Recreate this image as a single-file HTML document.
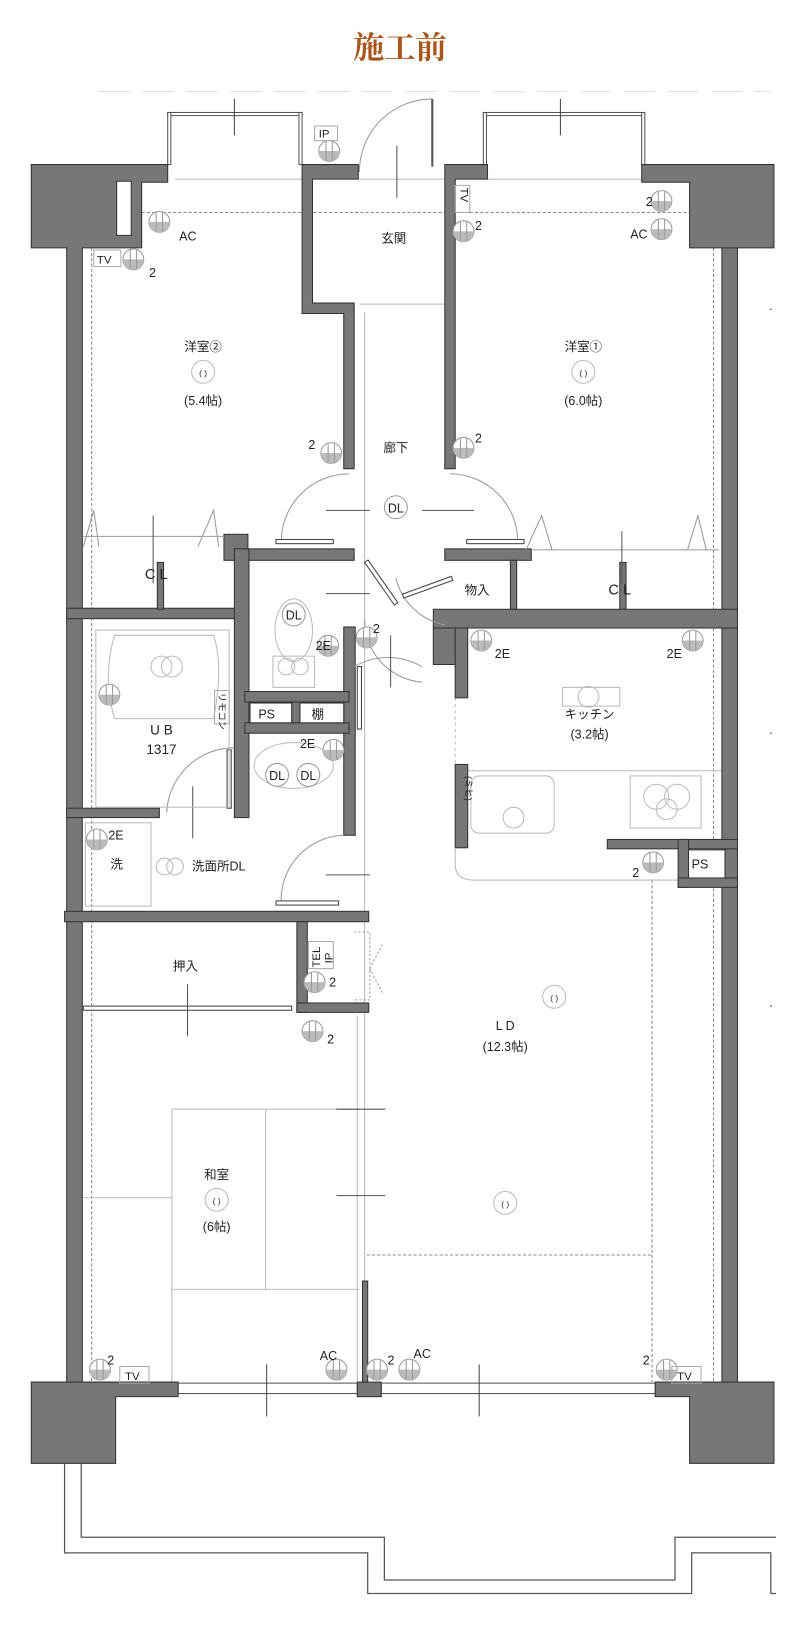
<!DOCTYPE html>
<html><head><meta charset="utf-8"><style>
html,body{margin:0;padding:0;background:#fff;}
svg{display:block;}
text{font-family:"Liberation Sans","Noto Sans CJK JP",sans-serif;fill:#222;}
</style></head><body>
<svg width="800" height="1631" viewBox="0 0 768 1566" preserveAspectRatio="none" xmlns="http://www.w3.org/2000/svg">
<defs>
<g id="o"><circle r="10" fill="#fff" stroke="#999" stroke-width="1"/><path d="M-10,0 A10,10 0 0 0 10,0 Z" fill="#bbb"/><line x1="-3" y1="-9" x2="-3" y2="9" stroke="#999"/><line x1="3" y1="-9" x2="3" y2="9" stroke="#999"/></g>
<g id="l"><circle r="11" fill="#fff" stroke="#bbb"/><text x="0" y="4" font-size="8" text-anchor="middle" fill="#aaa">( )</text></g>
</defs>
<text x="384" y="56" font-size="30" font-weight="bold" text-anchor="middle" style="font-family:'Liberation Serif','Noto Serif CJK SC',serif;fill:#a8561c">施工前</text>
<line x1="95" y1="88" x2="740" y2="88" stroke="#ddd" stroke-dasharray="30,12"/>

<g stroke="#888" stroke-width="1" stroke-dasharray="3,2" fill="none">
<line x1="136" y1="204" x2="662" y2="204"/>
<line x1="88" y1="238" x2="88" y2="1327"/>
<line x1="685" y1="238" x2="685" y2="1327"/>
<line x1="626" y1="845" x2="626" y2="1327"/>
<line x1="352" y1="1205" x2="626" y2="1205"/>
</g>
<g stroke="#bbb" fill="none">
<line x1="168" y1="172" x2="290" y2="172"/><line x1="468" y1="172" x2="616" y2="172"/>
<line x1="345" y1="172" x2="427" y2="172"/>
<line x1="345" y1="292" x2="427" y2="292"/>
<line x1="350" y1="300" x2="350" y2="1330"/><line x1="343" y1="975" x2="343" y2="1330"/>
<line x1="165" y1="1065" x2="165" y2="1330"/><line x1="165" y1="1065" x2="345" y2="1065"/>
<line x1="255" y1="1065" x2="255" y2="1238"/><line x1="165" y1="1238" x2="345" y2="1238"/>
<line x1="80" y1="1150" x2="165" y2="1150"/>
<line x1="443" y1="740" x2="693" y2="740"/>
<path d="M437,815 L437,830 Q437,845 455,845 L650,845"/>
<line x1="437" y1="670" x2="437" y2="735" stroke-dasharray="3,3"/>
</g>

<g stroke="#555" fill="#fff" stroke-width="1">
<rect x="161" y="108" width="129" height="3"/><rect x="161" y="108" width="3" height="50"/><rect x="287" y="108" width="3" height="50"/>
<rect x="464" y="108" width="155" height="3"/><rect x="464" y="108" width="3" height="50"/><rect x="616" y="108" width="3" height="50"/>
<rect x="171" y="1328" width="172" height="10"/><rect x="366" y="1328" width="263" height="10"/>
</g>
<g stroke="#444"><line x1="225" y1="95" x2="225" y2="130"/><line x1="538" y1="95" x2="538" y2="130"/>
<line x1="256" y1="1310" x2="256" y2="1360"/><line x1="460" y1="1310" x2="460" y2="1360"/></g>

<g fill="#777" stroke="#333" stroke-width="1">
<path d="M30,158 H161 V175 H136 V238 H79 V1327 H64 V238 H30 Z"/>
<path d="M743,158 H616 V175 H662 V238 H708 V1327 H693 V238 H743 Z"/>
<path d="M290,158 H344 V172 H300 V291 H340 V450 H330 V301 H290 Z"/>
<path d="M427,158 H468 V172 H437 V450 H427 Z"/>
<rect x="215" y="513" width="23" height="25"/><rect x="235" y="527" width="105" height="11"/>
<rect x="427" y="527" width="83" height="11"/>
<rect x="64" y="584" width="175" height="10"/>
<rect x="151" y="540" width="6" height="45"/><rect x="595" y="540" width="6" height="45"/>
<rect x="490" y="538" width="6" height="47"/>
<rect x="225" y="527" width="14" height="258"/>
<rect x="330" y="602" width="11" height="200"/>
<rect x="235" y="664" width="100" height="10"/><rect x="235" y="694" width="100" height="10"/><rect x="280" y="674" width="8" height="20"/>
<rect x="64" y="776" width="89" height="9"/>
<rect x="62" y="875" width="292" height="10"/>
<rect x="285" y="885" width="10" height="87"/><rect x="285" y="963" width="69" height="9"/>
<rect x="416" y="585" width="292" height="18"/><rect x="416" y="603" width="21" height="35"/>
<rect x="437" y="603" width="12" height="67"/><rect x="437" y="734" width="12" height="80"/>
<rect x="583" y="806" width="125" height="9"/><rect x="651" y="806" width="10" height="46"/><rect x="651" y="843" width="57" height="9"/>
<path d="M30,1327 H171 V1341 H111 V1405 H30 Z"/>
<path d="M743,1327 H629 V1341 H662 V1405 H743 Z"/>
<rect x="343" y="1327" width="23" height="14"/>
<rect x="348" y="1230" width="5" height="97"/>
</g>
<rect x="112" y="174" width="14" height="52" fill="#fff" stroke="#333"/>
<rect x="661" y="816" width="35" height="27" fill="#fff" stroke="#333"/>
<rect x="240" y="675" width="40" height="19" fill="#fff" stroke="#333"/>
<rect x="288" y="675" width="42" height="19" fill="#fff" stroke="#333"/>

<g stroke="#999" fill="none">
<path d="M415,95 A70,70 0 0 0 345,165"/><line x1="415" y1="95" x2="415" y2="160" stroke="#555" stroke-width="2"/>
<path d="M335,455 A65,65 0 0 0 270,520"/><path d="M432,455 A65,65 0 0 1 497,520"/>
<path d="M330,802 A62,62 0 0 0 270,868"/>
<path d="M225,718 A65,65 0 0 0 160,780"/>
<path d="M340,640 A65,65 0 0 1 405,640 "/>
<path d="M350,595 A60,60 0 0 0 405,655"/>
<path d="M380,555 A60,60 0 0 0 427,600"/>
<path d="M95,525 L90,490 L80,525 M190,525 L205,490 L210,525 M505,528 L520,495 L530,528 M660,528 L670,495 L678,528"/>
<line x1="80" y1="515" x2="215" y2="515"/><line x1="510" y1="528" x2="690" y2="528"/>
<path d="M340,895 L355,895 L355,960 L340,960 M355,930 L368,905 M355,930 L368,955" stroke-dasharray="2,2"/>
<line x1="80" y1="968" x2="280" y2="968"/>
</g>
<g stroke="#444" fill="#fff">
<rect x="265" y="518" width="55" height="4"/><rect x="448" y="518" width="55" height="4"/>
<rect x="265" y="865" width="60" height="4"/>
<rect x="350" y="540" width="4" height="50" transform="rotate(-35 350 540)"/>
<rect x="380" y="555" width="50" height="4" transform="rotate(-20 427 545)"/>
<rect x="343" y="640" width="4" height="60"/>
<rect x="218" y="720" width="4" height="56"/>
<rect x="80" y="966" width="200" height="4"/>
</g>
<g stroke="#555"><line x1="381" y1="140" x2="381" y2="190"/><line x1="313" y1="490" x2="355" y2="490"/><line x1="405" y1="490" x2="455" y2="490"/>
<line x1="313" y1="570" x2="355" y2="570"/><line x1="375" y1="610" x2="375" y2="660"/><line x1="185" y1="755" x2="185" y2="805"/>
<line x1="313" y1="840" x2="355" y2="840"/><line x1="180" y1="945" x2="180" y2="995"/><line x1="147" y1="495" x2="147" y2="560"/><line x1="597" y1="510" x2="597" y2="560"/>
<line x1="323" y1="1065" x2="370" y2="1065"/><line x1="323" y1="1148" x2="370" y2="1148"/></g>

<g stroke="#bbb" fill="none">
<rect x="92" y="605" width="128" height="170"/><path d="M110,610 H205 Q215,640 205,690 H110 Q98,650 110,610 Z"/>
<rect x="82" y="790" width="63" height="80"/>
<ellipse cx="282" cy="605" rx="18" ry="30"/><rect x="262" y="630" width="40" height="30"/>
<ellipse cx="282" cy="735" rx="38" ry="22"/>
<rect x="452" y="745" width="80" height="55" rx="8"/><rect x="605" y="745" width="68" height="50"/>
<circle cx="630" cy="765" r="12"/><circle cx="650" cy="765" r="12"/><circle cx="640" cy="777" r="10"/>
<circle cx="493" cy="785" r="10"/><rect x="540" y="660" width="55" height="18"/><circle cx="565" cy="669" r="10"/>
<circle cx="155" cy="640" r="10"/><circle cx="165" cy="640" r="10"/>
<circle cx="158" cy="832" r="8"/><circle cx="168" cy="832" r="8"/>
<circle cx="275" cy="640" r="8"/><circle cx="288" cy="640" r="8"/>
</g>
<use href="#l" x="195" y="357"/><use href="#l" x="560" y="357"/><use href="#l" x="532" y="957"/><use href="#l" x="485" y="1155"/><use href="#l" x="208" y="1152"/>

<use href="#o" x="153" y="213"/><use href="#o" x="128" y="249"/><use href="#o" x="316" y="145"/>
<use href="#o" x="445" y="222"/><use href="#o" x="635" y="193"/><use href="#o" x="635" y="220"/>
<use href="#o" x="318" y="435"/><use href="#o" x="445" y="430"/><use href="#o" x="352" y="612"/>
<use href="#o" x="315" y="620"/><use href="#o" x="320" y="720"/><use href="#o" x="105" y="667"/>
<use href="#o" x="93" y="806"/><use href="#o" x="462" y="615"/><use href="#o" x="665" y="615"/>
<use href="#o" x="627" y="828"/><use href="#o" x="300" y="990"/><use href="#o" x="302" y="943"/>
<use href="#o" x="96" y="1315"/><use href="#o" x="323" y="1315"/><use href="#o" x="362" y="1315"/>
<use href="#o" x="393" y="1315"/><use href="#o" x="640" y="1315"/>

<g font-size="12">
<text x="378" y="233" text-anchor="middle">玄関</text>
<text x="195" y="337" text-anchor="middle">洋室②</text><text x="195" y="389" text-anchor="middle">(5.4帖)</text>
<text x="560" y="337" text-anchor="middle">洋室①</text><text x="560" y="389" text-anchor="middle">(6.0帖)</text>
<text x="380" y="434" text-anchor="middle">廊下</text>
<text x="150" y="556" text-anchor="middle" font-size="14">C L</text><text x="595" y="571" text-anchor="middle" font-size="14">C L</text>
<text x="458" y="571" text-anchor="middle">物入</text>
<text x="155" y="705" text-anchor="middle" font-size="13">U B</text><text x="155" y="724" text-anchor="middle" font-size="13">1317</text>
<text x="256" y="690" text-anchor="middle">PS</text><text x="305" y="690" text-anchor="middle">棚</text><text x="672" y="834" text-anchor="middle">PS</text>
<text x="566" y="690" text-anchor="middle">キッチン</text><text x="566" y="709" text-anchor="middle">(3.2帖)</text>
<text x="210" y="836" text-anchor="middle">洗面所DL</text><text x="112" y="834" text-anchor="middle">洗</text>
<text x="178" y="932" text-anchor="middle">押入</text>
<text x="485" y="989" text-anchor="middle">L D</text><text x="485" y="1009" text-anchor="middle">(12.3帖)</text>
<text x="208" y="1132" text-anchor="middle">和室</text><text x="208" y="1182" text-anchor="middle">(6帖)</text>
<text x="172" y="231">AC</text><text x="605" y="229">AC</text><text x="307" y="1306">AC</text><text x="397" y="1304">AC</text>
<text x="143" y="266">2</text><text x="456" y="221">2</text><text x="620" y="198">2</text><text x="296" y="431">2</text><text x="456" y="425">2</text>
<text x="358" y="608">2</text><text x="607" y="842">2</text><text x="314" y="1002">2</text><text x="316" y="947">2</text>
<text x="103" y="1310">2</text><text x="372" y="1310">2</text><text x="617" y="1310">2</text>
<text x="303" y="624">2E</text><text x="288" y="718">2E</text><text x="104" y="806">2E</text><text x="475" y="632">2E</text><text x="640" y="632">2E</text>
<text x="306" y="132" font-size="11">IP</text>
<text x="93" y="253" font-size="11">TV</text><text x="120" y="1325" font-size="11">TV</text><text x="650" y="1325" font-size="11">TV</text>
</g>
<g font-size="12" text-anchor="middle">
<circle cx="380" cy="487" r="11" fill="#fff" stroke="#999"/><text x="380" y="492">DL</text>
<circle cx="282" cy="590" r="11" fill="#fff" stroke="#999"/><text x="282" y="595">DL</text>
<circle cx="266" cy="744" r="11" fill="#fff" stroke="#999"/><text x="266" y="749">DL</text>
<circle cx="296" cy="744" r="11" fill="#fff" stroke="#999"/><text x="296" y="749">DL</text>
</g>
<g fill="none" stroke="#aaa"><rect x="302" y="121" width="22" height="14"/><rect x="90" y="240" width="26" height="16"/><rect x="115" y="1312" width="28" height="16"/><rect x="645" y="1312" width="28" height="16"/>
<rect x="437" y="178" width="14" height="26"/><rect x="206" y="663" width="14" height="32"/><rect x="296" y="904" width="24" height="26"/></g>
<text transform="translate(442,180) rotate(90)" font-size="11">TV</text>
<text transform="translate(210,665) rotate(90)" font-size="9">リモコン</text>
<text transform="translate(447,745) rotate(90)" font-size="9">(ミヒ)</text>
<text transform="translate(307,929) rotate(-90)" font-size="11">TEL</text>
<text transform="translate(319,925) rotate(-90)" font-size="11">IP</text>

<g fill="none" stroke="#555" stroke-width="1.2">
<path d="M78,1405 V1476 H369 V1517 H648 V1476 H745"/>
<path d="M62,1405 V1491 H353 V1530 H664 V1491 H740 V1530 H745"/>
</g>
<circle cx="740" cy="297" r="0.8" fill="#555"/><circle cx="740" cy="704" r="0.8" fill="#555"/><circle cx="740" cy="966" r="0.8" fill="#555"/>
</svg>
</body></html>
